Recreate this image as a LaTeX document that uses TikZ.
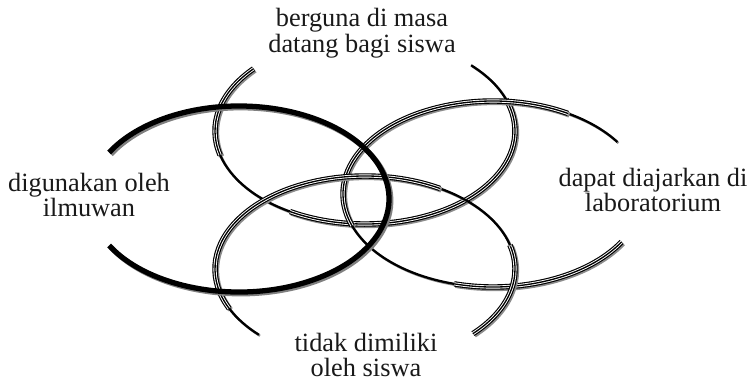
\documentclass[tikz,border=0pt]{standalone}
\usepackage{fontspec}
\setmainfont{Liberation Serif}
\usetikzlibrary{positioning}

\begin{document}
\begin{tikzpicture}[
    x=0.02cm, y=0.02cm,
    note/.style={font=\fontsize{15}{14.5}\selectfont, align=center, text=black!90, inner sep=0pt},
    thinring/.style={draw=black, line width=1.3pt, preaction={draw=black!45, line width=1.3pt, transform canvas={shift={(0.6pt,-0.6pt)}}}},
    triplering/.style={draw=black, line width=3.1pt, preaction={draw=black!45, line width=3.1pt, transform canvas={shift={(0.8pt,-0.8pt)}}}, postaction={draw=white, line width=1.8pt}, postaction={draw=black, line width=0.75pt}},
    thickring/.style={draw=black, line width=3pt, preaction={draw=black!50, line width=3pt, transform canvas={shift={(1pt,-1pt)}}}},
]
\useasboundingbox (0,0) rectangle (753,-387);

% Ring centres
\coordinate (cleft) at (239,-199);
\coordinate (cright) at (493,-194);
\coordinate (ctop) at (365,-131);
\coordinate (cbottom) at (365,-269);

% Top ring
\draw[triplering] (ctop) ++(138:150 and 93) arc[start angle=138, end angle=195, x radius=150, y radius=93];
\draw[thinring] (ctop) ++(195:150 and 93) arc[start angle=195, end angle=240, x radius=150, y radius=93];
\draw[triplering] (ctop) ++(240:150 and 93) arc[start angle=240, end angle=380, x radius=150, y radius=93];
\draw[thinring] (ctop) ++(20:150 and 93) arc[start angle=20, end angle=45, x radius=150, y radius=93];

% Right ring
\draw[thinring] (cright) ++(34:150 and 93) arc[start angle=34, end angle=60, x radius=150, y radius=93];
\draw[triplering] (cright) ++(60:150 and 93) arc[start angle=60, end angle=200, x radius=150, y radius=93];
\draw[thinring] (cright) ++(200:150 and 93) arc[start angle=200, end angle=255, x radius=150, y radius=93];
\draw[triplering] (cright) ++(255:150 and 93) arc[start angle=255, end angle=329, x radius=150, y radius=93];

% Bottom ring
\draw[triplering] (cbottom) ++(-44:150 and 93) arc[start angle=-44, end angle=15, x radius=150, y radius=93];
\draw[thinring] (cbottom) ++(15:150 and 93) arc[start angle=15, end angle=60, x radius=150, y radius=93];
\draw[triplering] (cbottom) ++(60:150 and 93) arc[start angle=60, end angle=205, x radius=150, y radius=93];
\draw[thinring] (cbottom) ++(205:150 and 93) arc[start angle=205, end angle=225, x radius=150, y radius=93];

% Left ring
\draw[thickring] (cleft) ++(-150:150 and 93) arc[start angle=-150, end angle=150, x radius=150, y radius=93];

% Labels
\node[note] (useful) at (362,-33) {berguna di masa\\datang bagi siswa};
\node[note] (scientists) at (89,-195) {digunakan oleh\\ilmuwan};
\node[note] (lab) at (653,-190) {dapat diajarkan di\\laboratorium};
\node[note] (notowned) at (366,-355) {tidak dimiliki\\oleh siswa};

\end{tikzpicture}
\end{document}
